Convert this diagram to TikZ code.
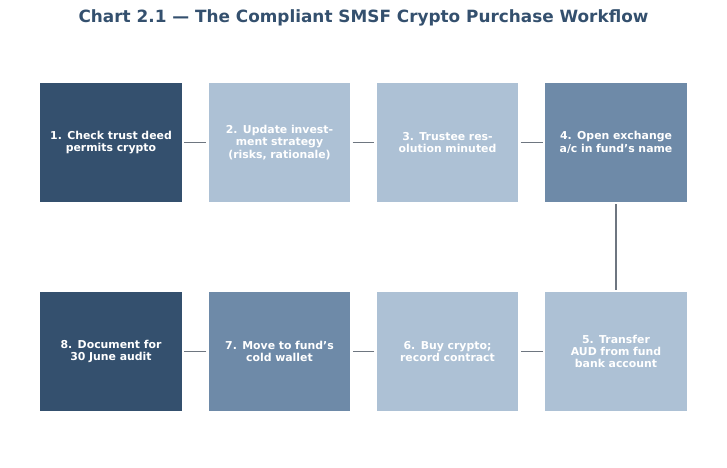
\documentclass[tikz,border=0pt]{standalone}
\usepackage{fontspec}
\setmainfont{DejaVu Sans}
\usetikzlibrary{positioning}
\definecolor{dark}{HTML}{34506E}
\definecolor{mid}{HTML}{6E8AA8}
\definecolor{light}{HTML}{ADC1D5}
\definecolor{link}{HTML}{6E7680}
\begin{document}
\begin{tikzpicture}[
		x=0.02cm, y=-0.02cm,
		stage/.style={rectangle, minimum width=2.84cm, minimum height=2.38cm, text width=2.6cm, align=center, inner sep=0pt, text=white, font=\fontsize{6.2}{7}\selectfont\bfseries},
		conn/.style={draw=link, line width=1.1pt, shorten <=1pt, shorten >=1pt}
	]
	\useasboundingbox (0,0) rectangle (727,467);
	\node[font=\fontsize{9.6}{11}\selectfont\bfseries, text=dark] (title) at (363.5, 18) {Chart 2.1 — The Compliant SMSF Crypto Purchase Workflow};

	\node[stage, fill=dark] (s1) at (111, 142.5) {1. Check trust deed permits crypto};
	\node[stage, fill=light] (s2) at (279.5, 142.5) {2. Update investment strategy (risks, rationale)};
	\node[stage, fill=light] (s3) at (447.5, 142.5) {3. Trustee resolution minuted};
	\node[stage, fill=mid] (s4) at (616, 142.5) {4. Open exchange a/c in fund's name};
	\node[stage, fill=light] (s5) at (616, 351.5) {5. Transfer AUD from fund bank account};
	\node[stage, fill=light] (s6) at (447.5, 351.5) {6. Buy crypto; record contract};
	\node[stage, fill=mid] (s7) at (279.5, 351.5) {7. Move to fund's cold wallet};
	\node[stage, fill=dark] (s8) at (111, 351.5) {8. Document for 30 June audit};

	\draw[conn] (s1) -- (s2);
	\draw[conn] (s2) -- (s3);
	\draw[conn] (s3) -- (s4);
	\draw[conn] (s4) -- (s5);
	\draw[conn] (s5) -- (s6);
	\draw[conn] (s6) -- (s7);
	\draw[conn] (s7) -- (s8);
\end{tikzpicture}
\end{document}
